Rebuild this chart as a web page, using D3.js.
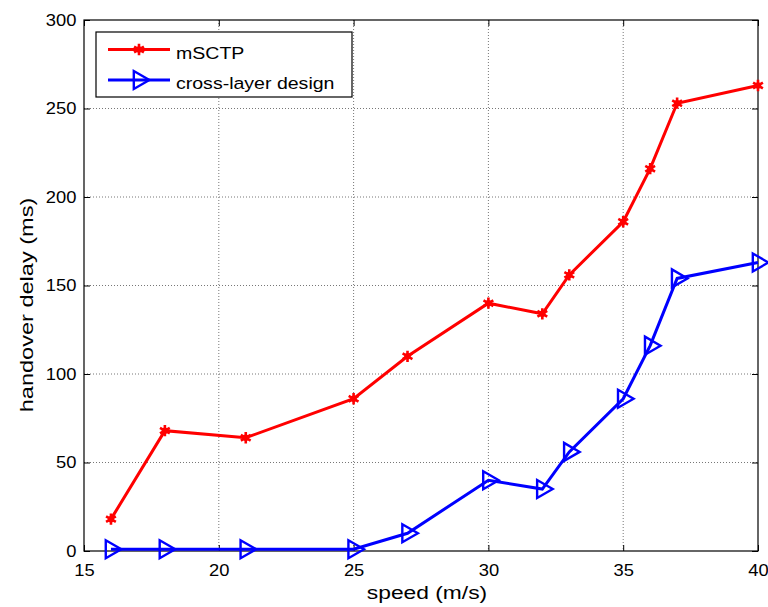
<!DOCTYPE html>
<html><head><meta charset="utf-8">
<script src="https://cdn.jsdelivr.net/npm/d3@7"></script>
<style>body{margin:0;background:#fff}svg{display:block}text{font-family:"Liberation Sans",Arial,sans-serif}</style>
</head><body><svg id="c" width="768" height="607"></svg>
<script>
const speed = [16, 18, 21, 25, 27, 30, 32, 33, 35, 36, 37, 40];
const mSCTP = [18, 68, 64, 86, 110, 140, 134, 156, 186, 216, 253, 263];
const crossLayer = [1, 1, 1, 1, 10, 40, 35, 56, 86, 116, 154, 163];
const xTicks = [15, 20, 25, 30, 35, 40];
const yTicks = [0, 50, 100, 150, 200, 250, 300];
const seriesNames = ["mSCTP", "cross-layer design"];

const svg = d3.select("#c");
const L = 84, R = 758, T = 20, B = 551;
const x = d3.scaleLinear().domain([15, 40]).range([L, R]);
const y = d3.scaleLinear().domain([0, 300]).range([B, T]);

// grid
const g = svg.append("g");
g.selectAll(".gx").data(xTicks.slice(1, -1)).enter().append("line")
  .attr("x1", d => x(d)).attr("x2", d => x(d)).attr("y1", T).attr("y2", B)
  .attr("stroke", "#777").attr("stroke-width", 1).attr("stroke-dasharray", "1,2");
g.selectAll(".gy").data(yTicks.slice(1, -1)).enter().append("line")
  .attr("y1", d => y(d)).attr("y2", d => y(d)).attr("x1", L).attr("x2", R)
  .attr("stroke", "#777").attr("stroke-width", 1).attr("stroke-dasharray", "1,2");

// axes
const ax = svg.append("g").attr("transform", `translate(0,${B})`)
  .call(d3.axisBottom(x).tickValues(xTicks).tickSizeInner(-6).tickSizeOuter(0).tickPadding(13));
const ay = svg.append("g").attr("transform", `translate(${L},0)`)
  .call(d3.axisLeft(y).tickValues(yTicks).tickSizeInner(-6).tickSizeOuter(0).tickPadding(7));
const axT = svg.append("g").attr("transform", `translate(0,${T})`)
  .call(d3.axisTop(x).tickValues(xTicks).tickSizeInner(-6).tickSizeOuter(0).tickFormat(""));
const ayR = svg.append("g").attr("transform", `translate(${R},0)`)
  .call(d3.axisRight(y).tickValues(yTicks).tickSizeInner(-6).tickSizeOuter(0).tickFormat(""));
[ax, ay, axT, ayR].forEach(a => {
  a.select(".domain").remove();
  a.selectAll("line").attr("stroke", "#000");
  a.selectAll("text").attr("fill", "#000").style("font-size", "17px");
});
// stretch tick labels slightly horizontally around their anchor
ax.selectAll(".tick text").each(function () {
  const t = d3.select(this);
  t.attr("transform", "scale(1.08,1)");
});
ay.selectAll(".tick text").attr("transform", "scale(1.08,1)");

svg.append("rect").attr("x", L).attr("y", T).attr("width", R - L).attr("height", B - T)
  .attr("fill", "none").attr("stroke", "#000").attr("stroke-width", 1.2);

// labels
svg.append("text").attr("transform", "translate(427,599) scale(1.2,1)").attr("text-anchor", "middle")
  .style("font-size", "19px").text("speed (m/s)");
svg.append("text").attr("transform", "translate(33,305) rotate(-90) scale(1.24,1)")
  .attr("text-anchor", "middle").style("font-size", "19px").text("handover delay (ms)");

const line = d3.line().x(d => x(d[0])).y(d => y(d[1]));
const dRed = speed.map((s, i) => [s, mSCTP[i]]);
const dBlue = speed.map((s, i) => [s, crossLayer[i]]);

const star = d3.symbol().type(d3.symbolAsterisk).size(90);
const tri = d3.symbol().type(d3.symbolTriangle).size(140);

function drawStar(sel, cx, cy) {
  sel.append("path").attr("d", star()).attr("transform", `translate(${cx},${cy})`)
    .attr("fill", "none").attr("stroke", "#f00").attr("stroke-width", 2.6);
  sel.append("circle").attr("cx", cx).attr("cy", cy).attr("r", 3.2).attr("fill", "#f00");
}
function drawTri(sel, cx, cy) {
  sel.append("path").attr("d", tri()).attr("transform", `translate(${cx},${cy}) rotate(90)`)
    .attr("fill", "none").attr("stroke", "#00f").attr("stroke-width", 2.4);
}

svg.append("path").datum(dBlue).attr("d", line).attr("fill", "none")
  .attr("stroke", "#00f").attr("stroke-width", 3);
const bm = svg.append("g");
dBlue.forEach(d => drawTri(bm, x(d[0]), y(d[1])));

svg.append("path").datum(dRed).attr("d", line).attr("fill", "none")
  .attr("stroke", "#f00").attr("stroke-width", 3);
const rm = svg.append("g");
dRed.forEach(d => drawStar(rm, x(d[0]), y(d[1])));

// legend
const lg = svg.append("g");
lg.append("rect").attr("x", 96).attr("y", 32).attr("width", 256).attr("height", 65)
  .attr("fill", "#fff").attr("stroke", "#000").attr("stroke-width", 1.2);
const ly = [49.5, 80];
lg.append("line").attr("x1", 108).attr("x2", 170).attr("y1", ly[0]).attr("y2", ly[0])
  .attr("stroke", "#f00").attr("stroke-width", 3);
drawStar(lg, 139, ly[0]);
lg.append("line").attr("x1", 108).attr("x2", 170).attr("y1", ly[1]).attr("y2", ly[1])
  .attr("stroke", "#00f").attr("stroke-width", 3);
drawTri(lg, 139, ly[1]);
seriesNames.forEach((n, i) => {
  lg.append("text").attr("transform", `translate(176,${ly[i] + 9}) scale(1.15,1)`)
    .style("font-size", "17px").text(n);
});
</script></body></html>
